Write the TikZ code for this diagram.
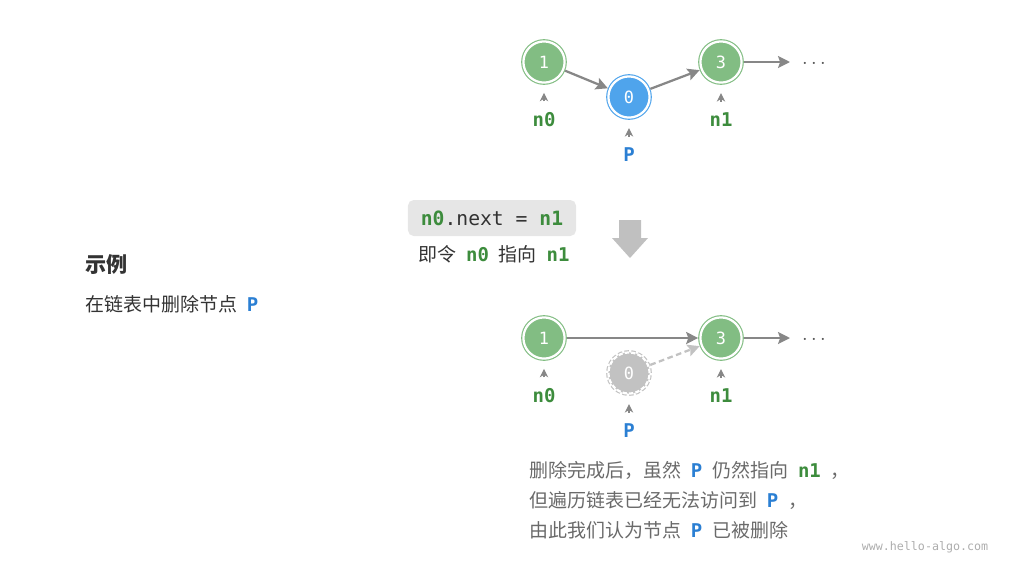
\documentclass[tikz,border=0pt]{standalone}
\usepackage{fontspec}
\setmainfont{Noto Sans CJK SC}
\setmonofont{DejaVu Sans Mono}
\usepackage{xcolor}
\usetikzlibrary{arrows.meta,positioning}
\definecolor{nodegreen}{HTML}{82BD83}
\definecolor{nodeblue}{HTML}{4FA4EC}
\definecolor{nodegray}{HTML}{C2C2C2}
\definecolor{txtgreen}{HTML}{3D8C3D}
\definecolor{txtblue}{HTML}{2B7FD3}
\definecolor{ink}{HTML}{333333}
\definecolor{softink}{HTML}{6A6A6A}
\definecolor{linkgray}{HTML}{878787}
\definecolor{codebg}{HTML}{E6E6E6}
\definecolor{blockgray}{HTML}{C0C0C0}
\newcommand{\cg}[1]{\textcolor{txtgreen}{\ttfamily\bfseries #1}}
\newcommand{\vg}[1]{\hspace{7pt}\cg{#1}\hspace{7pt}}
\newcommand{\vb}[1]{\hspace{7pt}\textcolor{txtblue}{\ttfamily\bfseries #1}\hspace{7pt}}
\tikzset{
  listnode/.style={circle,minimum size=1.03cm,inner sep=0pt,outer sep=1.6pt,
                   fill=#1,draw=#1,double=white,line width=0.8pt,double distance=1.6pt,
                   text=white,font=\ttfamily\fontsize{12}{12}\selectfont},
  ghost/.style ={dash pattern=on 3pt off 1.6pt},
  varlab/.style={inner sep=0pt,font=\ttfamily\bfseries\fontsize{13.5}{13.5}\selectfont},
  txt/.style   ={inner sep=0pt,anchor=base west,text=ink,font=\fontsize{13.5}{16}\selectfont},
  note/.style  ={txt,text=softink},
  codebox/.style={rounded corners=4pt,fill=codebg,minimum width=4.2cm,minimum height=0.9cm,
                 inner sep=0pt,text=ink,font=\ttfamily\fontsize{14}{14}\selectfont},
  dotsnode/.style={inner sep=0pt,yshift=-1.5pt,text=ink!85,font=\fontsize{15}{15}\selectfont},
  link/.style  ={-{Stealth[length=8.5pt,width=8.5pt,inset=1.5pt]},line width=1.6pt,draw=linkgray},
  deadlink/.style={link,draw=nodegray,dash pattern=on 4pt off 2.5pt},
  ptr/.style   ={-{Stealth[length=6pt,width=6pt,inset=1.8pt]},line width=0.8pt,draw=linkgray}
}
\begin{document}
\begin{tikzpicture}[x=0.025cm,y=-0.025cm]
  \useasboundingbox (0,0) rectangle (1014,568);
  % before removal
  \node[listnode=nodegreen] (b1) at (544,62) {1};
  \node[listnode=nodeblue]  (b0) at (629,97) {0};
  \node[listnode=nodegreen] (b3) at (721,62) {3};
  \coordinate (bend) at (790,62);
  \node[dotsnode] (bdots) at (814,62) {$\cdots$};
  \draw[link] (b1) -- (b0);
  \draw[link] (b0) -- (b3);
  \draw[link] (b3) -- (bend);
  \node[varlab,text=txtgreen] (bn0) at (544,120) {n0};
  \node[varlab,text=txtblue]  (bp)  at (629,155) {P};
  \node[varlab,text=txtgreen] (bn1) at (721,120) {n1};
  \foreach \v in {bn0,bp,bn1}
    \draw[ptr] ([yshift=8pt]\v.north) -- ([yshift=14pt]\v.north);
  % step
  \node[codebox] (code) at (492,218) {\cg{n0}.next = \cg{n1}};
  \node[txt] (hint) at (418,261) {即令\vg{n0}指向\vg{n1}};
  \fill[blockgray] (619,220) -- (641,220) -- (641,238) -- (648,238) -- (630,258)
    -- (612,238) -- (619,238) -- cycle;
  % example
  \node[txt,font=\bfseries\fontsize{15}{18}\selectfont] (title) at (85,272) {示例};
  \node[txt] (task) at (85,311) {在链表中删除节点\vb{P}};
  % after removal
  \node[listnode=nodegreen] (a1) at (544,338) {1};
  \node[listnode=nodegray,ghost] (a0) at (629,373) {0};
  \node[listnode=nodegreen] (a3) at (721,338) {3};
  \coordinate (aend) at (790,338);
  \node[dotsnode] (adots) at (814,338) {$\cdots$};
  \draw[link] (a1) -- (a3);
  \draw[deadlink] (a0) -- (a3);
  \draw[link] (a3) -- (aend);
  \node[varlab,text=txtgreen] (an0) at (544,396) {n0};
  \node[varlab,text=txtblue]  (ap)  at (629,431) {P};
  \node[varlab,text=txtgreen] (an1) at (721,396) {n1};
  \foreach \v in {an0,ap,an1}
    \draw[ptr] ([yshift=8pt]\v.north) -- ([yshift=14pt]\v.north);
  % remark
  \node[note] (note1) at (529,477) {删除完成后，虽然\vb{P}仍然指向\vg{n1}，};
  \node[note] (note2) at (529,507) {但遍历链表已经无法访问到\vb{P}，};
  \node[note] (note3) at (529,537) {由此我们认为节点\vb{P}已被删除};
  \node[inner sep=0pt,text=black!32,font=\ttfamily\fontsize{8.3}{8.3}\selectfont]
    (site) at (925,547) {www.hello-algo.com};
\end{tikzpicture}
\end{document}
